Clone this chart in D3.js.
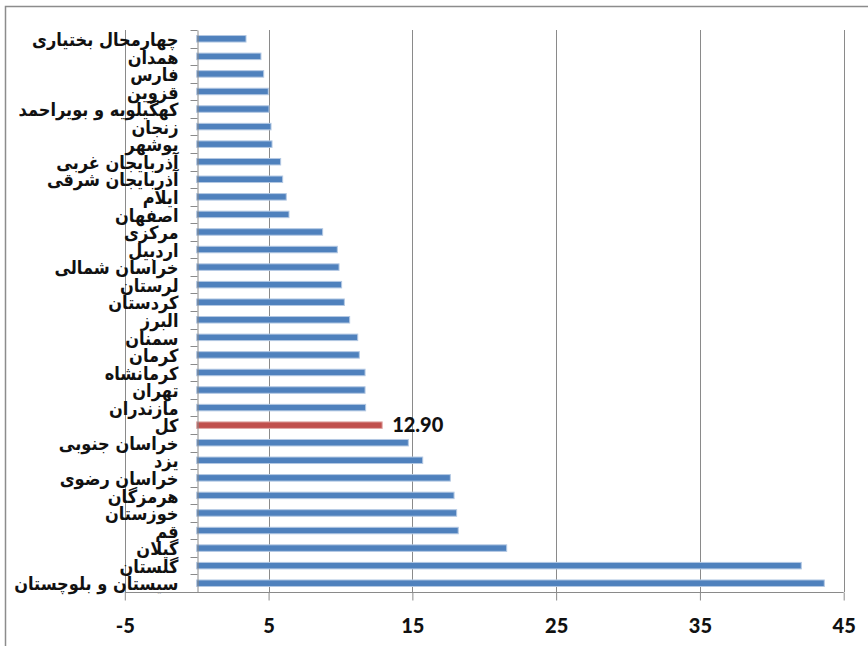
<!DOCTYPE html>
<html>
<head>
<meta charset="utf-8">
<script src="https://cdn.jsdelivr.net/npm/d3@7"></script>
<style>
  body { margin: 0; background: #fff; }
  svg { display: block; }
  .cat text { font-family: "DejaVu Sans Condensed", "DejaVu Sans", sans-serif; font-weight: bold; font-size: 18px; fill: #111; }
  .xax text { font-family: Lato, "Open Sans", sans-serif; font-weight: 900; font-size: 20px; fill: #111; }
</style>
</head>
<body>
<script>
// provinces, top to bottom
var provinces = [
  "چهارمحال بختیاری", "همدان", "فارس", "قزوین", "کهگیلویه و بویراحمد",
  "زنجان", "بوشهر", "آذربایجان غربی", "آذربایجان شرقی", "ایلام",
  "اصفهان", "مرکزی", "اردبیل", "خراسان شمالی", "لرستان",
  "کردستان", "البرز", "سمنان", "کرمان", "کرمانشاه",
  "تهران", "مازندران", "کل", "خراسان جنوبی", "یزد",
  "خراسان رضوی", "هرمزگان", "خوزستان", "قم", "گیلان",
  "گلستان", "سیستان و بلوچستان"
];
var values = [
  3.43, 4.47, 4.66, 4.98, 5.03,
  5.17, 5.24, 5.84, 5.98, 6.23,
  6.42, 8.76, 9.78, 9.90, 10.08,
  10.27, 10.64, 11.20, 11.31, 11.71,
  11.71, 11.75, 12.90, 14.72, 15.72,
  17.64, 17.90, 18.08, 18.19, 21.56,
  42.05, 43.65
];
var xTicks = [-5, 5, 15, 25, 35, 45];
var totalLabel = "کل";

var width = 868, height = 646;
var svg = d3.select("body").append("svg")
  .attr("width", width)
  .attr("height", height);

// chart frame (runs off the right and bottom edge)
svg.append("rect")
  .attr("x", 5.5).attr("y", 6.5)
  .attr("width", 880).attr("height", 660)
  .attr("fill", "none")
  .attr("stroke", "#8c8c8c")
  .attr("stroke-width", 1.5);

var x = d3.scaleLinear().domain([-5, 45]).range([124.8, 843.7]);
var y = d3.scaleBand().domain(provinces).range([30, 592]).paddingInner(0).paddingOuter(0);

// vertical gridlines
svg.append("g").selectAll("line")
  .data(xTicks)
  .enter().append("line")
    .attr("x1", function(d) { return Math.round(x(d)) + 0.5; })
    .attr("x2", function(d) { return Math.round(x(d)) + 0.5; })
    .attr("y1", 30)
    .attr("y2", 592)
    .attr("stroke", "#8a8a8a")
    .attr("stroke-width", 1);

// bars
var barH = 6.5;
svg.append("g").selectAll("rect")
  .data(provinces)
  .enter().append("rect")
    .attr("x", x(0))
    .attr("y", function(d) { return y(d) + y.bandwidth() / 2 - barH / 2; })
    .attr("width", function(d, i) { return x(values[i]) - x(0); })
    .attr("height", barH)
    .attr("fill", function(d) { return d === totalLabel ? "#C0504D" : "#4F81BD"; })
    .attr("stroke", function(d) { return d === totalLabel ? "#e0a9a7" : "#b3c8e3"; })
    .attr("stroke-width", 1);

// category axis at zero
var yAxis = d3.axisLeft(y).tickSize(0).tickPadding(20);
var yg = svg.append("g")
  .attr("class", "cat")
  .attr("transform", "translate(" + (Math.round(x(0)) + 0.5) + ",0)")
  .call(yAxis);
yg.select(".domain").attr("stroke", "#8a8a8a");
yg.selectAll("text")
  .attr("dy", "0.4em")
  .attr("x", -19);

// tick marks between categories
var bounds = provinces.map(function(d) { return y(d); }).concat([592]);
yg.selectAll(".sep")
  .data(bounds)
  .enter().append("line")
    .attr("class", "sep")
    .attr("x1", -7).attr("x2", 0)
    .attr("y1", function(d) { return Math.round(d) + 0.5; })
    .attr("y2", function(d) { return Math.round(d) + 0.5; })
    .attr("stroke", "#8a8a8a");

// value axis (plain hyphen for negatives, as in the original)
var xAxis = d3.axisBottom(x).tickValues(xTicks).tickSize(8).tickPadding(18)
  .tickFormat(function(d) { return String(d); });
var xg = svg.append("g")
  .attr("class", "xax")
  .attr("transform", "translate(0,592.5)")
  .call(xAxis);
xg.select(".domain").attr("stroke", "#8a8a8a").attr("d", "M124.8,0H843.7");
xg.selectAll(".tick line").attr("stroke", "#8a8a8a");

// data label for the total
var ti = provinces.indexOf(totalLabel);
svg.append("text")
  .attr("x", x(values[ti]) + 10)
  .attr("y", y(totalLabel) + y.bandwidth() / 2)
  .attr("dy", "0.36em")
  .attr("font-family", "Lato, 'Open Sans', sans-serif")
  .attr("font-weight", 900)
  .attr("font-size", 20)
  .attr("fill", "#111")
  .text(values[ti].toFixed(2));
</script>
</body>
</html>
